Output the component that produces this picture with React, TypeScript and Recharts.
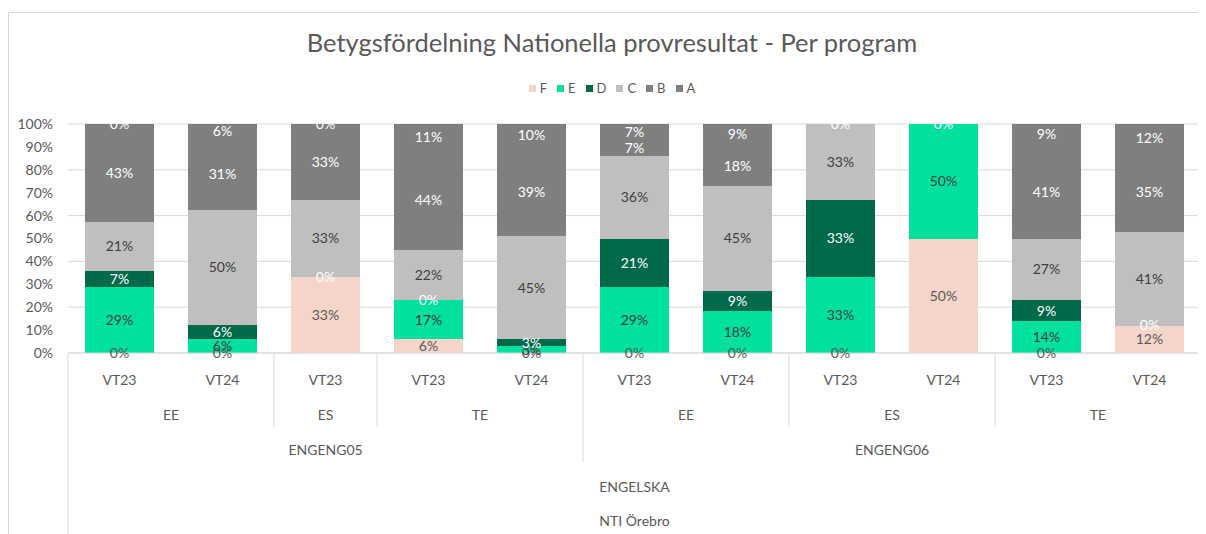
import React from 'react'
import { BarChart, Bar, XAxis, YAxis, CartesianGrid, LabelList } from 'recharts'

const terms = ['VT23', 'VT24', 'VT23', 'VT23', 'VT24', 'VT23', 'VT24', 'VT23', 'VT24', 'VT23', 'VT24']
const programs = ['EE', 'EE', 'ES', 'TE', 'TE', 'EE', 'EE', 'ES', 'ES', 'TE', 'TE']
const courses = ['ENGENG05', 'ENGENG05', 'ENGENG05', 'ENGENG05', 'ENGENG05', 'ENGENG06', 'ENGENG06', 'ENGENG06', 'ENGENG06', 'ENGENG06', 'ENGENG06']
const subject = 'ENGELSKA'
const school = 'NTI Örebro'

const gradeF = [0, 0, 33, 6, 0, 0, 0, 0, 50, 0, 12]
const gradeE = [29, 6, null, 17, 3, 29, 18, 33, 50, 14, null]
const gradeD = [7, 6, 0, 0, 3, 21, 9, 33, null, 9, 0]
const gradeC = [21, 50, 33, 22, 45, 36, 45, 33, null, 27, 41]
const gradeB = [43, 31, 33, 44, 39, 7, 18, null, null, 41, 35]
const gradeA = [0, 6, 0, 11, 10, 7, 9, 0, 0, 9, 12]

const yTicks = [0, 0.1, 0.2, 0.3, 0.4, 0.5, 0.6, 0.7, 0.8, 0.9, 1]

const series = [
  { key: 'F', values: gradeF, color: '#f5d4c9', label: '#595959' },
  { key: 'E', values: gradeE, color: '#00e09e', label: '#404040' },
  { key: 'D', values: gradeD, color: '#00694a', label: '#ffffff' },
  { key: 'C', values: gradeC, color: '#bfbfbf', label: '#404040' },
  { key: 'B', values: gradeB, color: '#7f7f7f', label: '#ffffff' },
  { key: 'A', values: gradeA, color: '#7f7f7f', label: '#ffffff' },
]

// zero shares still get a "0%" label in the original, so they are plotted as a hair-thin segment
const data = terms.map((term, i) => {
  const row: any = { id: i, term, prog: programs[i], course: courses[i] }
  series.forEach((s) => {
    const v = s.values[i]
    row[s.key] = v === 0 ? 1e-6 : v
    row[s.key + '_label'] = v
  })
  return row
})

const CHART_W = 1198
const CHART_H = 526
const MARGIN = { top: 116, right: 5, bottom: 0, left: 0 }
const Y_W = 60
const BAND = (CHART_W - MARGIN.left - MARGIN.right - Y_W) / terms.length
const FONT = 'Lato, "Open Sans", sans-serif'
const TEXT = '#595959'
const LINE = '#d9d9d9'

const progKeys = courses.map((c, i) => c + '|' + programs[i])

function runStart(keys: string[], i: number) {
  return i === 0 || keys[i - 1] !== keys[i]
}

function runLength(keys: string[], i: number) {
  let n = 1
  while (i + n < keys.length && keys[i + n] === keys[i]) n++
  return n
}

function CategoryTick(props: any) {
  const { x, y, index } = props
  const left = x - BAND / 2
  const parts: React.ReactNode[] = []
  const txt = (key: string, cx: number, dy: number, value: string) => (
    <text key={key} x={cx} y={y + dy} dy="0.35em" textAnchor="middle" fill={TEXT} fontSize={14} fontFamily={FONT}>
      {value}
    </text>
  )

  parts.push(txt('t', x, 27, terms[index]))

  if (runStart(progKeys, index)) {
    const n = runLength(progKeys, index)
    parts.push(txt('p', left + (n * BAND) / 2, 62, programs[index]))
    if (index > 0) {
      const len = runStart(courses, index) ? 109 : 74
      parts.push(<line key="ps" x1={left} x2={left} y1={y} y2={y + len} stroke={LINE} />)
    }
  }

  if (runStart(courses, index)) {
    const n = runLength(courses, index)
    parts.push(txt('c', left + (n * BAND) / 2, 97, courses[index]))
  }

  if (index === 0) {
    const total = terms.length * BAND
    parts.push(txt('s', left + total / 2, 134, subject))
    parts.push(txt('n', left + total / 2, 168, school))
    parts.push(<line key="l" x1={left} x2={left} y1={y} y2={y + 200} stroke={LINE} />)
    parts.push(<line key="r" x1={left + total} x2={left + total} y1={y} y2={y + 200} stroke={LINE} />)
  }

  return <g>{parts}</g>
}

export default function App() {
  return (
    <div style={{ position: 'relative', width: CHART_W, height: CHART_H, overflow: 'hidden', background: '#fff', fontFamily: FONT }}>
      <div style={{ position: 'absolute', left: 0, top: 4, width: 1400, height: 800, border: `1px solid ${LINE}` }} />
      <div style={{ position: 'absolute', left: 0, top: 19, width: 1208, textAlign: 'center', fontSize: 25.5, color: TEXT }}>
        Betygsfördelning Nationella provresultat - Per program
      </div>
      <div style={{ position: 'absolute', left: 0, top: 72, width: 1208, display: 'flex', justifyContent: 'center', gap: 10, fontSize: 13, color: TEXT }}>
        {series.map((s) => (
          <span key={s.key} style={{ display: 'flex', alignItems: 'center', gap: 4 }}>
            <span style={{ width: 7, height: 7, background: s.color, display: 'inline-block' }} />
            {s.key}
          </span>
        ))}
      </div>
      <BarChart
        width={CHART_W}
        height={CHART_H}
        data={data}
        margin={MARGIN}
        stackOffset="expand"
        barCategoryGap="16.5%"
        style={{ position: 'absolute', left: 0, top: 0 }}
      >
        <CartesianGrid vertical={false} stroke={LINE} />
        <YAxis
          width={Y_W}
          domain={[0, 1]}
          ticks={yTicks}
          tickFormatter={(v: number) => `${Math.round(v * 100)}%`}
          axisLine={false}
          tickLine={false}
          tickSize={0}
          tickMargin={15}
          tick={{ fill: TEXT, fontSize: 14, fontFamily: FONT }}
        />
        <XAxis
          dataKey="id"
          type="category"
          interval={0}
          height={CHART_H - MARGIN.top - MARGIN.bottom - 229}
          axisLine={{ stroke: LINE }}
          tickLine={false}
          tickSize={0}
          tickMargin={0}
          tick={<CategoryTick />}
        />
        {series.map((s) => (
          <Bar
            key={s.key}
            dataKey={s.key}
            stackId="grades"
            fill={s.color}
            shapeRendering="crispEdges"
            isAnimationActive={false}
          >
            <LabelList
              dataKey={s.key + '_label'}
              position="center"
              formatter={(v: any) => (v === null || v === undefined ? '' : `${v}%`)}
              fill={s.label}
              fontSize={14}
              fontFamily={FONT}
            />
          </Bar>
        ))}
      </BarChart>
    </div>
  )
}
